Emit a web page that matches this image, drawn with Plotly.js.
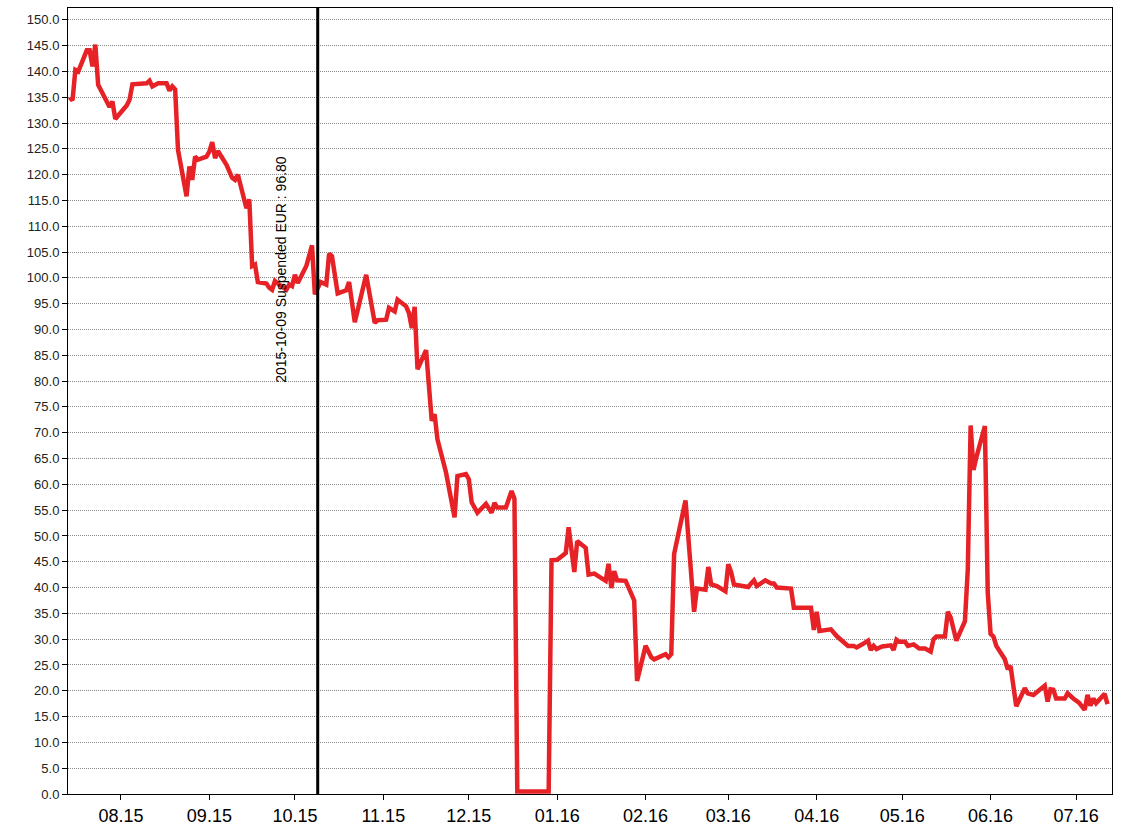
<!DOCTYPE html>
<html>
<head>
<meta charset="utf-8">
<script src="https://cdn.plot.ly/plotly-3.0.1.min.js"></script>
<style>
  html, body { margin: 0; padding: 0; background: #fff; }
  #chart { width: 1128px; height: 836px; }
</style>
</head>
<body>
<div id="chart"></div>
<script>
// ---- data ----
const dates = [
  "2015-07-14","2015-07-15","2015-07-16","2015-07-17","2015-07-20","2015-07-21","2015-07-22","2015-07-23","2015-07-24",
  "2015-07-27","2015-07-28","2015-07-29","2015-07-30","2015-08-03","2015-08-04","2015-08-05","2015-08-10","2015-08-11",
  "2015-08-12","2015-08-14","2015-08-17","2015-08-18","2015-08-19","2015-08-20","2015-08-21","2015-08-24","2015-08-25",
  "2015-08-26","2015-08-27","2015-08-28","2015-08-31","2015-09-01","2015-09-02","2015-09-03","2015-09-04","2015-09-07",
  "2015-09-09","2015-09-10","2015-09-11","2015-09-14","2015-09-15","2015-09-16","2015-09-17","2015-09-18","2015-09-21",
  "2015-09-22","2015-09-23","2015-09-24","2015-09-25","2015-09-28","2015-09-29","2015-09-30","2015-10-01","2015-10-02",
  "2015-10-05","2015-10-07","2015-10-08","2015-10-10","2015-10-12","2015-10-13","2015-10-14","2015-10-16","2015-10-19",
  "2015-10-20","2015-10-22","2015-10-26","2015-10-29","2015-10-30","2015-11-02","2015-11-03","2015-11-05","2015-11-06",
  "2015-11-09","2015-11-10","2015-11-11","2015-11-12","2015-11-13","2015-11-16","2015-11-18","2015-11-19","2015-11-20",
  "2015-11-23","2015-11-26","2015-11-27","2015-11-30","2015-12-01","2015-12-02","2015-12-04","2015-12-07","2015-12-09",
  "2015-12-10","2015-12-11","2015-12-14","2015-12-16","2015-12-17","2015-12-18","2015-12-29","2015-12-30","2016-01-01",
  "2016-01-04","2016-01-05","2016-01-07","2016-01-08","2016-01-11","2016-01-12","2016-01-14","2016-01-18","2016-01-19",
  "2016-01-20","2016-01-21","2016-01-22","2016-01-25","2016-01-26","2016-01-28","2016-01-29","2016-02-01","2016-02-03",
  "2016-02-04","2016-02-08","2016-02-09","2016-02-10","2016-02-11","2016-02-15","2016-02-18","2016-02-19","2016-02-22",
  "2016-02-23","2016-02-24","2016-02-26","2016-02-29","2016-03-01","2016-03-02","2016-03-03","2016-03-08","2016-03-09",
  "2016-03-10","2016-03-11","2016-03-14","2016-03-16","2016-03-17","2016-03-18","2016-03-23","2016-03-24","2016-03-30",
  "2016-03-31","2016-04-01","2016-04-02","2016-04-06","2016-04-08","2016-04-12","2016-04-14","2016-04-15","2016-04-17",
  "2016-04-19","2016-04-20","2016-04-21","2016-04-22","2016-04-24","2016-04-27","2016-04-28","2016-04-29","2016-04-30",
  "2016-05-02","2016-05-03","2016-05-05","2016-05-07","2016-05-09","2016-05-11","2016-05-12","2016-05-13","2016-05-16",
  "2016-05-17","2016-05-18","2016-05-20","2016-05-23","2016-05-24","2016-05-25","2016-05-26","2016-05-27","2016-05-30",
  "2016-05-31","2016-06-01","2016-06-02","2016-06-03","2016-06-06","2016-06-07","2016-06-08","2016-06-10","2016-06-13",
  "2016-06-14","2016-06-16","2016-06-20","2016-06-21","2016-06-22","2016-06-23","2016-06-24","2016-06-27","2016-06-28",
  "2016-06-30","2016-07-02","2016-07-04","2016-07-05","2016-07-06","2016-07-07","2016-07-08","2016-07-11","2016-07-12"
];
const prices = [
  135.0,134.4,140.3,140.0,144.1,144.1,141.0,145.2,137.4,
  134.5,133.1,134.2,130.8,133.4,134.5,137.5,137.7,138.2,
  137.1,137.7,137.7,136.3,137.1,136.5,124.8,115.8,121.6,
  119.0,123.5,122.9,123.5,124.5,126.3,123.2,124.6,121.9,
  119.4,119.0,120.0,113.5,115.2,102.3,102.6,99.2,98.9,
  98.1,97.7,99.4,98.9,97.7,98.7,98.4,100.6,99.0,
  102.3,106.3,96.8,99.2,98.7,104.7,104.2,97.0,97.6,
  99.2,91.4,100.6,91.3,91.8,91.9,94.2,93.5,95.8,
  94.5,93.2,90.3,94.4,82.3,86.0,72.3,73.6,68.7,
  62.3,53.6,61.6,62.0,61.0,56.5,54.5,56.2,54.5,
  56.4,55.5,55.5,58.7,57.2,0.5,0.5,45.3,45.4,
  46.7,51.7,43.0,49.0,47.7,42.5,42.7,41.3,44.6,
  39.9,43.2,41.4,41.3,40.1,37.5,21.9,28.7,26.5,
  26.1,27.1,26.5,27.1,46.5,56.9,35.3,39.8,39.6,
  44.0,40.6,40.3,39.3,44.5,43.0,40.6,40.1,40.8,
  41.4,40.3,41.4,40.8,40.8,40.0,39.8,36.1,36.1,
  31.8,35.3,31.6,31.9,30.6,28.7,28.7,28.4,29.0,
  29.7,27.9,28.7,28.1,28.6,28.8,27.9,29.9,29.5,
  29.5,28.7,29.0,28.2,28.2,27.6,30.0,30.5,30.5,
  35.3,34.2,29.7,33.5,43.5,71.4,62.8,65.2,71.3,
  39.0,31.0,30.5,28.7,26.1,24.2,24.8,17.0,20.5,
  19.5,19.2,21.0,17.9,20.3,20.2,18.5,18.5,19.5,
  18.5,17.7,16.3,19.2,17.1,18.5,17.6,19.4,17.4
];
const monthTicks = ["2015-08-01","2015-09-01","2015-10-01","2015-11-01","2015-12-01","2016-01-01",
                    "2016-02-01","2016-03-01","2016-04-01","2016-05-01","2016-06-01","2016-07-01"];
const monthLabels = ["08.15","09.15","10.15","11.15","12.15","01.16","02.16","03.16","04.16","05.16","06.16","07.16"];
const eventDate = "2015-10-09";
const eventText = "2015-10-09 Suspended EUR : 96.80";

// ---- chart ----
const font = "Liberation Sans, Arial, sans-serif";
const trace = {
  type: "scatter", mode: "lines",
  x: dates, y: prices,
  line: { color: "#e62227", width: 4.5, shape: "linear" },
  hoverinfo: "x+y"
};

const layout = {
  width: 1128, height: 836,
  margin: { l: 68, r: 16, t: 8, b: 42 },
  paper_bgcolor: "#ffffff", plot_bgcolor: "#ffffff",
  showlegend: false,
  font: { family: font, color: "#000" },
  xaxis: {
    type: "date",
    range: ["2015-07-13 10:00", "2016-07-13 14:00"],
    tickmode: "array", tickvals: monthTicks, ticktext: monthLabels,
    ticks: "outside", ticklen: 5, tickwidth: 1, tickcolor: "#000",
    tickfont: { family: font, size: 18, color: "#000" },
    showgrid: false, zeroline: false,
    showline: true, linecolor: "#000", linewidth: 1, mirror: true
  },
  yaxis: {
    range: [0, 152.3],
    tick0: 0, dtick: 5, tickformat: ".1f",
    ticks: "outside", ticklen: 5, tickwidth: 1, tickcolor: "#000",
    tickfont: { family: font, size: 13, color: "#222" },
    showgrid: true, gridcolor: "#8a8a8a", gridwidth: 1, griddash: "1px,1px",
    zeroline: false,
    showline: true, linecolor: "#000", linewidth: 1, mirror: true
  },
  shapes: [{
    type: "line", xref: "x", yref: "paper",
    x0: eventDate, x1: eventDate, y0: 0, y1: 1,
    line: { color: "#000", width: 3 }, layer: "above"
  }],
  annotations: [{
    xref: "x", yref: "y", x: eventDate, y: 101.7,
    xshift: -37, text: eventText, textangle: -90, showarrow: false,
    font: { family: font, size: 14, color: "#000" }
  }]
};

Plotly.newPlot("chart", [trace], layout, { staticPlot: true, displayModeBar: false });
</script>
</body>
</html>
